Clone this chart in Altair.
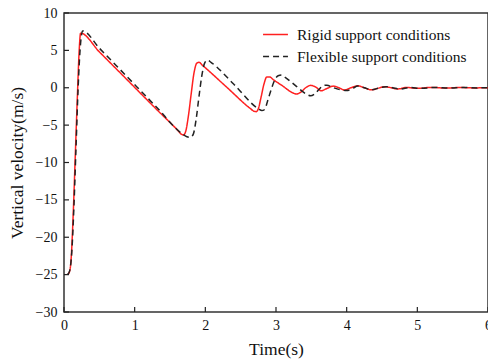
import altair as alt
import pandas as pd

series_names = ["Rigid support conditions", "Flexible support conditions"]

t_rigid = [0.05, 0.075, 0.10, 0.13, 0.16, 0.19, 0.215, 0.235, 0.5, 0.9, 1.3, 1.60, 1.66, 1.69, 1.72, 1.76, 1.80,
           1.84, 1.88, 1.91, 1.96, 2.3, 2.64, 2.69, 2.72, 2.75, 2.79, 2.83, 2.87, 2.91, 2.96, 3.1, 3.22,
           3.29, 3.35, 3.42, 3.49, 3.56, 3.64, 3.72, 3.81, 3.89, 3.97, 4.06, 4.16, 4.25, 4.35,
           4.45, 4.54, 4.63, 4.72, 4.85, 5.0, 5.2, 5.4, 5.6, 5.8, 6.0]
v_rigid = [-25, -24.7, -23, -17, -9, -1, 5, 7.3, 4.8, 1.0, -2.8, -5.6, -6.2, -6.32, -5.9, -3.8, -0.8,
           2.0, 3.3, 3.4, 3.0, 0.1, -2.8, -3.15, -3.2, -2.8, -1.2, 0.5, 1.45, 1.45, 1.1, 0.2, -0.6,
           -0.84, -0.6, 0.0, 0.32, 0.1, -0.4, -0.1, 0.22, 0.0, -0.3, 0.0, 0.26, 0.0, -0.28,
           -0.05, 0.14, 0.0, -0.16, 0.04, -0.08, 0.05, -0.04, 0.03, -0.02, 0.0]

t_flex = [0.05, 0.08, 0.11, 0.14, 0.17, 0.20, 0.235, 0.264, 0.5, 0.9, 1.3, 1.68, 1.74, 1.79, 1.83, 1.87, 1.91,
          1.95, 1.99, 2.03, 2.08, 2.4, 2.75, 2.80, 2.84, 2.88, 2.93, 2.98, 3.03, 3.08, 3.13, 3.28, 3.42,
          3.49, 3.55, 3.61, 3.67, 3.72, 3.80, 3.90, 4.0, 4.08, 4.16, 4.25, 4.35, 4.45, 4.56,
          4.65, 4.75, 4.9, 5.05, 5.25, 5.45, 5.65, 5.85, 6.0]
v_flex = [-25, -24.5, -22, -16, -8, 0, 6, 7.6, 5.3, 1.4, -2.5, -6.2, -6.55, -6.63, -6.2, -4.2, -1.2,
          1.6, 3.3, 3.7, 3.4, 0.5, -2.8, -3.05, -2.9, -1.8, -0.3, 1.0, 1.6, 1.7, 1.4, 0.25, -0.8,
          -1.08, -0.8, -0.2, 0.3, 0.35, 0.05, -0.25, -0.38, -0.1, 0.22, 0.0, -0.28, -0.05, 0.14,
          0.0, -0.18, 0.04, -0.08, 0.05, -0.04, 0.03, -0.02, 0.0]

x_ticks = [0, 1, 2, 3, 4, 5, 6]
y_ticks = [-30, -25, -20, -15, -10, -5, 0, 5, 10]

df = pd.concat([
    pd.DataFrame({"t": t_rigid, "v": v_rigid, "series": series_names[0], "ord": range(len(t_rigid))}),
    pd.DataFrame({"t": t_flex, "v": v_flex, "series": series_names[1], "ord": range(len(t_flex))}),
])

FONT = "Liberation Serif"
W, H = 424, 299

xscale = alt.Scale(domain=[0, 6], nice=False)
yscale = alt.Scale(domain=[-30, 10], nice=False)
color_scale = alt.Scale(domain=series_names, range=["#ff2020", "#222222"])
dash_scale = alt.Scale(domain=series_names, range=[[1, 0], [6, 4]])

leg = alt.Legend(title=None, orient="none", legendX=198, legendY=8, symbolType="stroke",
                 symbolSize=620, symbolStrokeWidth=1.5, labelOffset=8, rowPadding=-15, padding=0,
                 labelLimit=400)

x_axis = alt.Axis(values=x_ticks, title="Time(s)", labelPadding=6, titlePadding=8)
y_axis = alt.Axis(values=y_ticks, title="Vertical velocity(m/s)", labelPadding=7, titlePadding=9)

def line_layer(name):
    return alt.Chart(df).transform_filter(alt.datum.series == name).mark_line(
        strokeWidth=1.5, interpolate="monotone", clip=True
    ).encode(
        x=alt.X("t:Q", scale=xscale, axis=x_axis),
        y=alt.Y("v:Q", scale=yscale, axis=y_axis),
        color=alt.Color("series:N", scale=color_scale, legend=leg),
        strokeDash=alt.StrokeDash("series:N", scale=dash_scale, legend=leg),
        order="ord:Q",
    )

ytick_df = pd.DataFrame({"v": y_ticks})
xtick_df = pd.DataFrame({"t": x_ticks})

yticks = alt.Chart(ytick_df).mark_rule(color="#222", strokeWidth=1.2).encode(
    y=alt.Y("v:Q", scale=yscale, axis=y_axis), x=alt.value(0), x2=alt.value(5))
xticks = alt.Chart(xtick_df).mark_rule(color="#222", strokeWidth=1.2).encode(
    x=alt.X("t:Q", scale=xscale, axis=x_axis), y=alt.value(H - 5), y2=alt.value(H))

chart = alt.layer(line_layer(series_names[0]), line_layer(series_names[1]), yticks, xticks).properties(
    width=W, height=H,
    autosize=alt.AutoSizeParams(type="none"),
    padding={"left": 64, "top": 13, "right": 0, "bottom": 47},
    background="white",
).configure_view(stroke="#333", strokeWidth=1.5).configure_axis(
    ticks=False, domain=False, grid=False, labelFlush=False, labelOverlap=False, format="d",
    labelFont=FONT, labelFontSize=14, labelColor="#111",
    titleFont=FONT, titleFontSize=17.5, titleFontWeight="normal", titleColor="#111",
).configure_legend(
    labelFont=FONT, labelFontSize=15.5, labelColor="#111", labelLimit=400,
)

chart.save("out.html", embed_options={"renderer": "svg", "actions": False})
